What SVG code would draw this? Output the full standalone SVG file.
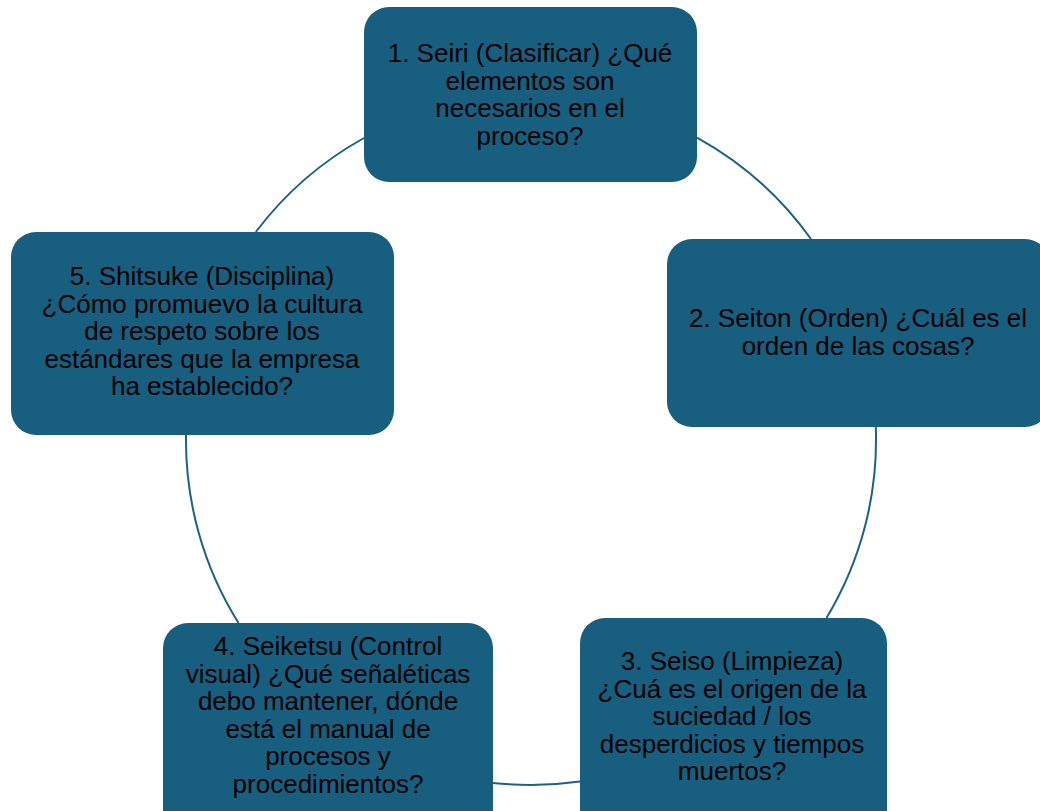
<svg xmlns="http://www.w3.org/2000/svg" width="1040" height="811" viewBox="0 0 1040 811">
<style>
.box{fill:#175E7F;}
.lbl{font-family:"Liberation Sans",Arial,sans-serif;font-size:26px;fill:#000;text-anchor:middle;}
.con{fill:none;stroke:#1B6285;stroke-width:2;}
</style>
<rect width="1040" height="811" fill="#fff"/>
<g id="connectors">
<path class="con" d="M697,137.6 A345,345 0 0 1 811,239"/>
<path class="con" d="M875.8,427 A345,345 0 0 1 826.5,618"/>
<path class="con" d="M580,781.5 A345,345 0 0 1 493,782.9"/>
<path class="con" d="M238.5,623 A345,345 0 0 1 186,435"/>
<path class="con" d="M255.8,232 A345,345 0 0 1 364,138"/>
</g>
<g id="node1">
<rect class="box" x="364" y="7" width="333" height="175" rx="25"/>
<text class="lbl"><tspan x="530" y="62">1. Seiri (Clasificar) ¿Qué</tspan><tspan x="530" y="89.5">elementos son</tspan><tspan x="530" y="117">necesarios en el</tspan><tspan x="530" y="144.5">proceso?</tspan></text>
</g>
<g id="node2">
<rect class="box" x="667" y="239" width="383" height="188" rx="25"/>
<text class="lbl"><tspan x="858" y="327">2. Seiton (Orden) ¿Cuál es el</tspan><tspan x="858" y="354.5">orden de las cosas?</tspan></text>
</g>
<g id="node3">
<rect class="box" x="580" y="618" width="307" height="220" rx="25"/>
<text class="lbl"><tspan x="732" y="670">3. Seiso (Limpieza)</tspan><tspan x="732" y="697.5">¿Cuá es el origen de la</tspan><tspan x="732" y="725">suciedad / los</tspan><tspan x="732" y="752.5">desperdicios y tiempos</tspan><tspan x="732" y="780">muertos?</tspan></text>
</g>
<g id="node4">
<rect class="box" x="163" y="623" width="330" height="220" rx="25"/>
<text class="lbl"><tspan x="328" y="655">4. Seiketsu (Control</tspan><tspan x="328" y="682.5">visual) ¿Qué señaléticas</tspan><tspan x="328" y="710">debo mantener, dónde</tspan><tspan x="328" y="737.5">está el manual de</tspan><tspan x="328" y="765">procesos y</tspan><tspan x="328" y="792.5">procedimientos?</tspan></text>
</g>
<g id="node5">
<rect class="box" x="11" y="232" width="383" height="203" rx="25"/>
<text class="lbl"><tspan x="202" y="285">5. Shitsuke (Disciplina)</tspan><tspan x="202" y="312.5">¿Cómo promuevo la cultura</tspan><tspan x="202" y="340">de respeto sobre los</tspan><tspan x="202" y="367.5">estándares que la empresa</tspan><tspan x="202" y="395">ha establecido?</tspan></text>
</g>
</svg>
